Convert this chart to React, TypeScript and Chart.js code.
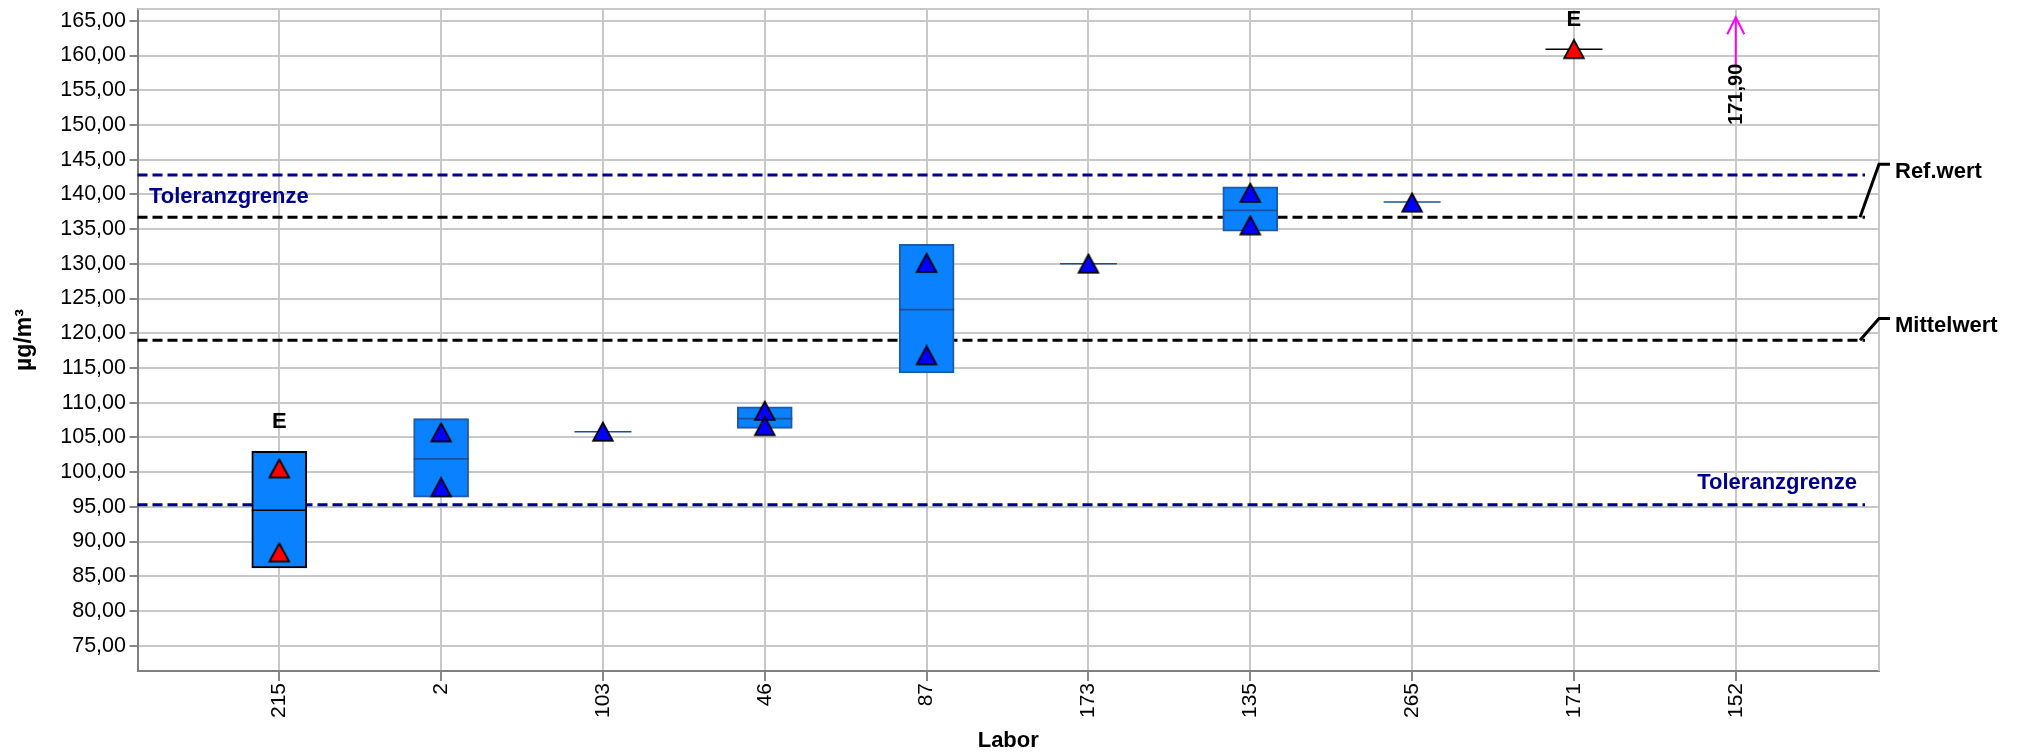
import React, { useEffect, useRef } from 'react';
import { Chart, registerables } from 'chart.js';

Chart.register(...registerables);

// ---------- data ----------
const labs = ['215', '2', '103', '46', '87', '173', '135', '265', '171', '152'];
const result1 = [100.5, 105.7, 105.8, 108.8, 130.1, 130.0, 140.2, 138.8, 160.9, 171.9];
const result2 = [88.4, 97.8, null, 106.6, 116.8, null, 135.5, null, null, null];
const boxLow = [86.2, 96.4, null, 106.3, 114.3, null, 134.7, null, null, null];
const boxHigh = [103.0, 107.7, null, 109.4, 132.8, null, 141.1, null, null, null];
const medians = [94.5, 101.9, 105.8, 107.7, 123.4, 130.0, 137.7, 138.9, 160.9, null];
const flagged = [true, false, false, false, false, false, false, false, true, false];
const yTicks = [75, 80, 85, 90, 95, 100, 105, 110, 115, 120, 125, 130, 135, 140, 145, 150, 155, 160, 165];

const upperTol = 142.8;
const refValue = 136.7;
const meanValue = 119.0;
const lowerTol = 95.3;

const yMin = 71.35;
const yMax = 166.7;
const xMin = -0.876;
const xMax = 9.885;

const FONT = '"Liberation Sans", Arial, Helvetica, sans-serif';
const NAVY = '#00008b';
const fmt = (v: number) => v.toFixed(2).replace('.', ',');

function makeTriangle(fill: string): HTMLCanvasElement {
  const c = document.createElement('canvas');
  c.width = 24;
  c.height = 22;
  const g = c.getContext('2d')!;
  g.beginPath();
  g.moveTo(12, 1.8);
  g.lineTo(2.2, 19.9);
  g.lineTo(21.8, 19.9);
  g.closePath();
  g.fillStyle = fill;
  g.fill();
  g.lineWidth = 1.8;
  g.strokeStyle = '#000';
  g.lineJoin = 'miter';
  g.stroke();
  return c;
}

const overlayPlugin = {
  id: 'overlay',
  beforeDatasetsDraw(chart: any) {
    const { ctx, chartArea: a, scales } = chart;
    const y = scales.y;
    ctx.save();
    // frame top / right
    ctx.strokeStyle = '#c8c8c8';
    ctx.lineWidth = 2;
    ctx.beginPath();
    ctx.moveTo(a.left, a.top);
    ctx.lineTo(a.right, a.top);
    ctx.lineTo(a.right, a.bottom);
    ctx.stroke();

    const lineEnd = a.right - 14;
    const lines = [
      { v: upperTol, c: NAVY },
      { v: refValue, c: '#000' },
      { v: meanValue, c: '#000' },
      { v: lowerTol, c: NAVY },
    ];
    ctx.lineWidth = 3;
    ctx.setLineDash([10, 5]);
    lines.forEach((l) => {
      const py = y.getPixelForValue(l.v);
      ctx.strokeStyle = l.c;
      ctx.beginPath();
      ctx.moveTo(a.left, py);
      ctx.lineTo(lineEnd, py);
      ctx.stroke();
    });
    ctx.setLineDash([]);

    // tolerance labels
    ctx.font = `bold 22px ${FONT}`;
    ctx.fillStyle = NAVY;
    ctx.textBaseline = 'middle';
    ctx.textAlign = 'left';
    ctx.fillText('Toleranzgrenze', a.left + 11.5, y.getPixelForValue(upperTol) + 22);
    ctx.textAlign = 'right';
    ctx.fillText('Toleranzgrenze', lineEnd - 8, y.getPixelForValue(lowerTol) - 21.6);

    // leaders + labels
    const leader = (val: number, rise: number, text: string) => {
      const py = y.getPixelForValue(val);
      ctx.strokeStyle = '#000';
      ctx.lineWidth = 3;
      ctx.beginPath();
      ctx.moveTo(lineEnd - 5, py);
      ctx.lineTo(a.right, py - rise);
      ctx.lineTo(a.right + 11, py - rise);
      ctx.stroke();
      ctx.fillStyle = '#000';
      ctx.textAlign = 'left';
      ctx.fillText(text, a.right + 16, py - rise + 7.5);
    };
    leader(refValue, 53, 'Ref.wert');
    leader(meanValue, 21.7, 'Mittelwert');
    ctx.restore();
  },
  afterDatasetsDraw(chart: any) {
    const { ctx, chartArea: a, scales } = chart;
    const x = scales.x;
    const y = scales.y;
    ctx.save();
    labs.forEach((_, i) => {
      const px = x.getPixelForValue(i);
      if (flagged[i]) {
        const vals = [result1[i], result2[i], boxHigh[i]].filter((v) => v != null) as number[];
        const top = Math.max(...vals);
        ctx.font = `bold 22px ${FONT}`;
        ctx.fillStyle = '#000';
        ctx.textAlign = 'center';
        ctx.textBaseline = 'middle';
        ctx.fillText('E', px, y.getPixelForValue(top) - 29);
      }
      if (result1[i] > yMax) {
        const tip = a.top + 8.3;
        const bottom = a.top + 57.7;
        ctx.strokeStyle = '#ff00ff';
        ctx.lineWidth = 2;
        ctx.beginPath();
        ctx.moveTo(px, bottom);
        ctx.lineTo(px, tip);
        ctx.moveTo(px - 8.5, tip + 17);
        ctx.lineTo(px, tip);
        ctx.lineTo(px + 8.5, tip + 17);
        ctx.stroke();
        ctx.save();
        ctx.translate(px + 1, bottom - 3);
        ctx.rotate(-Math.PI / 2);
        ctx.font = `bold 20px ${FONT}`;
        ctx.fillStyle = '#000';
        ctx.textAlign = 'right';
        ctx.textBaseline = 'middle';
        ctx.fillText(fmt(result1[i]), 0, 0);
        ctx.restore();
      }
    });
    ctx.restore();
  },
};

export default function App() {
  const ref = useRef<HTMLCanvasElement | null>(null);

  useEffect(() => {
    if (!ref.current) return;
    Chart.defaults.font.family = FONT;
    const redTri = makeTriangle('#ff0000');
    const blueTri = makeTriangle('#0000ff');

    const triData: any[] = [];
    const triStyles: any[] = [];
    labs.forEach((_, i) => {
      [result1[i], result2[i]].forEach((v) => {
        if (v != null && v <= yMax) {
          triData.push({ x: i, y: v });
          triStyles.push(flagged[i] ? redTri : blueTri);
        }
      });
    });

    const medData: any[] = [];
    const medColors: string[] = [];
    const medRadius: number[] = [];
    labs.forEach((_, i) => {
      const m = medians[i];
      if (m != null) {
        medData.push({ x: i, y: m });
        medColors.push(flagged[i] ? '#000000' : '#1c4f9a');
        medRadius.push(boxLow[i] != null ? 27.5 : 28.5);
      }
    });

    const boxData: any[] = [];
    const boxBorders: string[] = [];
    labs.forEach((_, i) => {
      const lo = boxLow[i];
      const hi = boxHigh[i];
      if (lo != null && hi != null) {
        boxData.push({ x: i, y: [lo, hi] });
        boxBorders.push(flagged[i] ? '#000000' : '#1f5aa6');
      }
    });

    const chart = new Chart(ref.current, {
      type: 'bar',
      data: {
        datasets: [
          {
            type: 'scatter',
            label: 'Ergebnisse',
            data: triData,
            pointStyle: triStyles,
            order: 0,
          } as any,
          {
            type: 'scatter',
            label: 'Median',
            data: medData,
            pointStyle: 'line',
            pointRadius: medRadius,
            pointBorderColor: medColors,
            pointBorderWidth: 1.6,
            order: 1,
          } as any,
          {
            type: 'bar',
            label: 'Bereich',
            data: boxData,
            backgroundColor: '#0a82ff',
            borderColor: boxBorders,
            borderWidth: 2,
            borderSkipped: false,
            barThickness: 55,
            order: 2,
          } as any,
        ],
      },
      options: {
        animation: false,
        responsive: false,
        devicePixelRatio: 1,
        layout: { autoPadding: false, padding: { top: 9, right: 146, left: 0, bottom: 0 } },
        plugins: { legend: { display: false }, tooltip: { enabled: false } },
        scales: {
          x: {
            type: 'linear',
            min: xMin,
            max: xMax,
            offset: false,
            afterBuildTicks: (s: any) => {
              s.ticks = labs.map((_, i) => ({ value: i }));
            },
            afterFit: (s: any) => {
              s.height = 83;
              s.paddingLeft = 0;
              s.paddingRight = 0;
            },
            ticks: {
              autoSkip: false,
              minRotation: 90,
              maxRotation: 90,
              padding: 2,
              color: '#000',
              font: { size: 21, family: FONT },
              callback: (v: any) => labs[v] ?? '',
            },
            grid: { offset: false, color: '#c8c8c8', lineWidth: 2, tickColor: '#888', tickLength: 10, tickWidth: 2 },
            border: { color: '#808080', width: 2 },
            title: {
              display: true,
              text: 'Labor',
              color: '#000',
              font: { size: 22, weight: 'bold', family: FONT },
              padding: { top: 0, bottom: 0 },
            },
          },
          y: {
            type: 'linear',
            min: yMin,
            max: yMax,
            afterBuildTicks: (s: any) => {
              s.ticks = yTicks.map((v) => ({ value: v }));
            },
            afterFit: (s: any) => {
              s.width = 137.5;
              s.paddingTop = 0;
              s.paddingBottom = 0;
            },
            ticks: {
              color: '#000',
              padding: 3.5,
              font: { size: 21.5, family: FONT },
              callback: (v: any) => fmt(Number(v)),
            },
            grid: { color: '#c8c8c8', lineWidth: 2, tickColor: '#888', tickLength: 8, tickWidth: 2 },
            border: { color: '#808080', width: 2 },
            title: {
              display: true,
              text: 'µg/m³',
              color: '#000',
              font: { size: 23, weight: 'bold', family: FONT },
              padding: { top: 11, bottom: 0 },
            },
          },
        },
      } as any,
      plugins: [overlayPlugin],
    });
    return () => chart.destroy();
  }, []);

  return (
    <div style={{ position: 'absolute', left: 0, top: 0, width: 2025, height: 754 }}>
      <canvas ref={ref} width={2025} height={754} style={{ display: 'block', width: 2025, height: 754 }} />
    </div>
  );
}
